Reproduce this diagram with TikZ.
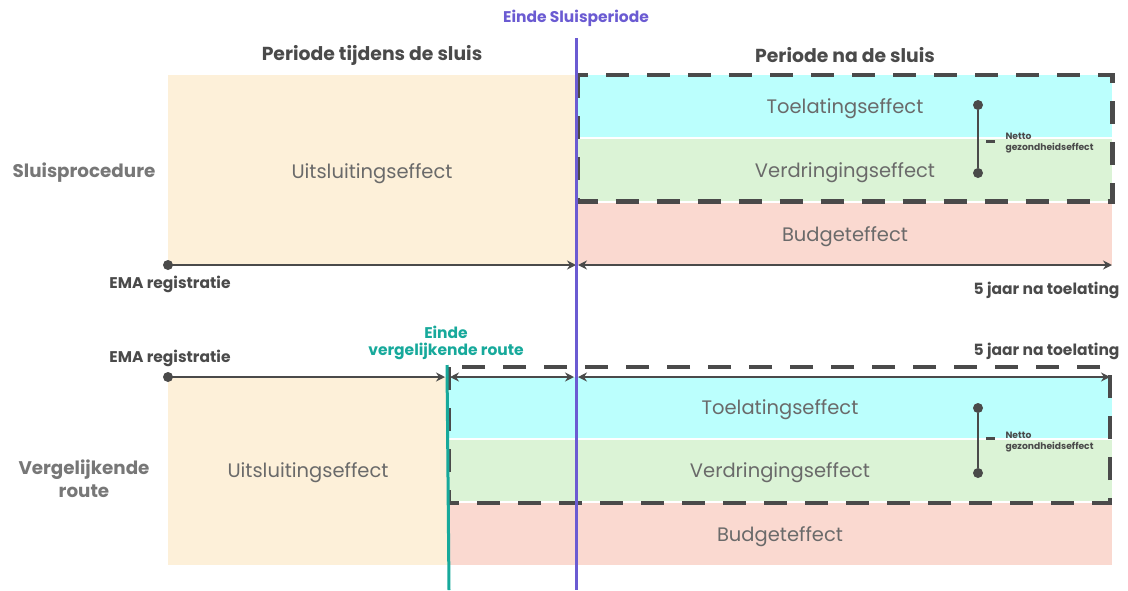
\documentclass[tikz,border=0pt]{standalone}
\usepackage{fontspec}
\setmainfont{Poppins}
\usetikzlibrary{arrows.meta}
\definecolor{excl}{HTML}{FDF0D9}
\definecolor{adm}{HTML}{BBFFFD}
\definecolor{disp}{HTML}{DBF3D6}
\definecolor{budg}{HTML}{FAD9D0}
\definecolor{ink}{HTML}{4A4A4A}
\definecolor{side}{HTML}{777777}
\definecolor{soft}{HTML}{6A6A6A}
\definecolor{lock}{HTML}{6B5BD2}
\definecolor{cmp}{HTML}{17A99B}
\tikzset{
  band/.style={draw=none, inner sep=0pt, anchor=north west},
  bandtext/.style={text=soft, font=\fontsize{19.5}{22}\selectfont, yshift=-3pt},
  head/.style={text=ink, font=\bfseries\fontsize{18.8}{22}\selectfont, yshift=-2pt},
  rowlabel/.style={text=side, font=\bfseries\fontsize{18.3}{23}\selectfont, align=center, yshift=-2pt},
  small/.style={text=ink, font=\bfseries\fontsize{15.5}{17}\selectfont, yshift=-1.5pt},
  tiny/.style={text=ink, font=\bfseries\fontsize{9.2}{11}\selectfont, align=left, anchor=west},
  timeline/.style={draw=ink, line width=1.8pt},
  tip/.style={-{Stealth[length=9pt,width=9pt]}},
  tips/.style={{Stealth[length=9pt,width=9pt]}-{Stealth[length=9pt,width=9pt]}},
  frame/.style={draw=ink, line width=4.5pt, dash pattern=on 23pt off 18pt},
  dot/.style={circle, fill=ink, inner sep=0pt, minimum size=10pt},
  bar/.style={draw=ink, line width=1.8pt}
}
\begin{document}
\begin{tikzpicture}[x=1pt,y=-1pt]
\useasboundingbox (0,0) rectangle (1128,590);

% ---------- upper row: lock procedure ----------
\node[band, fill=excl, minimum width=408pt, minimum height=190pt] (ex1) at (168,75) {};
\node[band, fill=adm, minimum width=534pt, minimum height=62pt] (ad1) at (578,75) {};
\node[band, fill=disp, minimum width=534pt, minimum height=62pt] (di1) at (578,139) {};
\node[band, fill=budg, minimum width=534pt, minimum height=62pt] (bu1) at (578,203) {};
\node[bandtext] at (372,171) {Uitsluitingseffect};
\node[bandtext] at (845,106) {Toelatingseffect};
\node[bandtext] at (845,170) {Verdringingseffect};
\node[bandtext] at (845,234) {Budgeteffect};
\draw[frame] (ad1.north west) rectangle (di1.south east);

\node[head] at (372,53) {Periode tijdens de sluis};
\node[head] at (845,53) {Periode na de sluis};
\node[rowlabel] at (84,171) {Sluisprocedure};

\coordinate (s1) at (168,265);
\coordinate (m1) at (576,265);
\coordinate (n1) at (578,265);
\coordinate (e1) at (1112,265);
\draw[timeline, tip] (s1) -- (m1);
\draw[timeline, tips] (n1) -- (e1);
\node[dot] at (s1) {};
\node[small] at (170,283) {EMA registratie};
\node[small, anchor=east] at (1123,289) {5 jaar na toelating};

\node[dot] (a1) at (978,105) {};
\node[dot] (b1) at (978,173) {};
\draw[bar] (a1) -- (b1);
\draw[ink, line width=3pt] (986,141) -- (995,141);
\node[tiny] at (1002,143) {Netto\\gezondheidseffect};

% ---------- lower row: comparative route ----------
\node[band, fill=excl, minimum width=281pt, minimum height=188pt] (ex2) at (168,377) {};
\node[band, fill=adm, minimum width=663pt, minimum height=61pt] (ad2) at (449,377) {};
\node[band, fill=disp, minimum width=663pt, minimum height=61pt] (di2) at (449,440) {};
\node[band, fill=budg, minimum width=663pt, minimum height=62pt] (bu2) at (449,503) {};
\node[bandtext] at (308,470) {Uitsluitingseffect};
\node[bandtext] at (780,407) {Toelatingseffect};
\node[bandtext] at (780,470) {Verdringingseffect};
\node[bandtext] at (780,534) {Budgeteffect};
\draw[frame] (449,367) rectangle (1110,503);

\node[rowlabel] at (84,477) {Vergelijkende\\route};
\node[small] at (170,357) {EMA registratie};
\node[small, anchor=east] at (1123,350) {5 jaar na toelating};
\node[small, text=cmp, align=center] at (446,341) {Einde\\vergelijkende route};

\coordinate (s2) at (168,377);
\coordinate (c2) at (445,377);
\coordinate (d2) at (450,377);
\coordinate (m2) at (574,377);
\coordinate (n2) at (578,377);
\coordinate (e2) at (1110,377);
\draw[timeline, tip] (s2) -- (c2);
\draw[timeline, tips] (d2) -- (m2);
\draw[timeline, tips] (n2) -- (e2);
\node[dot] at (s2) {};

\node[dot] (a2) at (978,408) {};
\node[dot] (b2) at (978,473) {};
\draw[bar] (a2) -- (b2);
\draw[ink, line width=3pt] (986,438) -- (995,438);
\node[tiny] at (1002,442) {Netto\\gezondheidseffect};

% ---------- period boundaries ----------
\coordinate (cmpTop) at (447,365);
\coordinate (cmpBot) at (449,590);
\draw[cmp, line width=3pt] (cmpTop) -- (cmpBot);
\coordinate (lockTop) at (576,38);
\coordinate (lockBot) at (576,590);
\draw[lock, line width=3pt] (lockTop) -- (lockBot);
\node[small, text=lock] at (576,17) {Einde Sluisperiode};
\end{tikzpicture}
\end{document}
